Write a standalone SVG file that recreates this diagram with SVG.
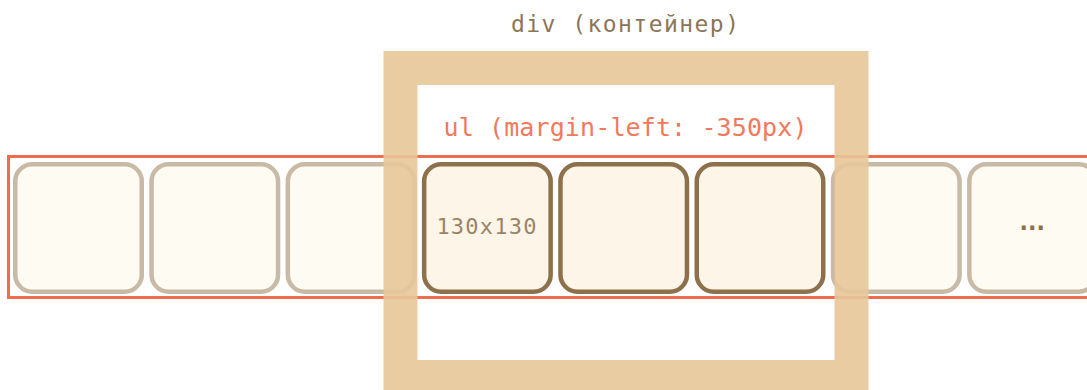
<svg xmlns="http://www.w3.org/2000/svg" width="1087" height="390" viewBox="0 0 1087 390">
  <style>
    .mono { font-family: "DejaVu Sans Mono", "Liberation Mono", monospace; }
    .item { stroke-width: 4.5; }
    .item.off { fill: #fefbf3; stroke: #c9baa6; }
    .item.on { fill: #fdf6e8; stroke: #8d704c; }
    .ul-box { fill: none; stroke: #ef6c4c; stroke-width: 3; }
    .div-frame { fill: none; stroke: #e8c799; stroke-width: 34; opacity: 0.9; }
    .lbl-div { fill: #8c7656; font-size: 23px; }
    .lbl-ul { fill: #f07a5c; font-size: 25px; }
    .lbl-item { fill: #9a8466; font-size: 22px; }
    .dots { fill: #8d704c; font-size: 24px; font-weight: bold; }
  </style>

  <!-- the ul strip, shifted left by its negative margin -->
  <g id="ul">
    <rect class="ul-box" x="8.5" y="156.5" width="1090" height="141"/>
  </g>

  <!-- list items, 130x130 each -->
  <g id="li-1"><rect class="item off" x="15.25" y="164.25" width="126.5" height="127.5" rx="17"/></g>
  <g id="li-2"><rect class="item off" x="151.55" y="164.25" width="126.5" height="127.5" rx="17"/></g>
  <g id="li-3"><rect class="item off" x="287.85" y="164.25" width="126.5" height="127.5" rx="17"/></g>
  <g id="li-4">
    <rect class="item on" x="424.15" y="164.25" width="126.5" height="127.5" rx="17"/>
    <text class="mono lbl-item" x="486.4" y="233.5" text-anchor="middle" textLength="100" lengthAdjust="spacing">130x130</text>
  </g>
  <g id="li-5"><rect class="item on" x="560.45" y="164.25" width="126.5" height="127.5" rx="17"/></g>
  <g id="li-6"><rect class="item on" x="696.75" y="164.25" width="126.5" height="127.5" rx="17"/></g>
  <g id="li-7"><rect class="item off" x="833.05" y="164.25" width="126.5" height="127.5" rx="17"/></g>
  <g id="li-8">
    <rect class="item off" x="969.35" y="164.25" width="126.5" height="127.5" rx="17"/>
    <text class="mono dots" x="1023.7 1032.2 1040.7" y="229.5" text-anchor="middle">...</text>
  </g>

  <!-- the container div with its thick border -->
  <g id="div">
    <rect class="div-frame" x="400.5" y="68" width="451" height="309"/>
  </g>

  <!-- labels -->
  <g id="labels">
    <text class="mono lbl-div" x="625" y="31.5" text-anchor="middle" textLength="228" lengthAdjust="spacing">div (контейнер)</text>
    <text class="mono lbl-ul" x="625.5" y="135.5" text-anchor="middle" textLength="364" lengthAdjust="spacing">ul (margin-left: -350px)</text>
  </g>
</svg>
